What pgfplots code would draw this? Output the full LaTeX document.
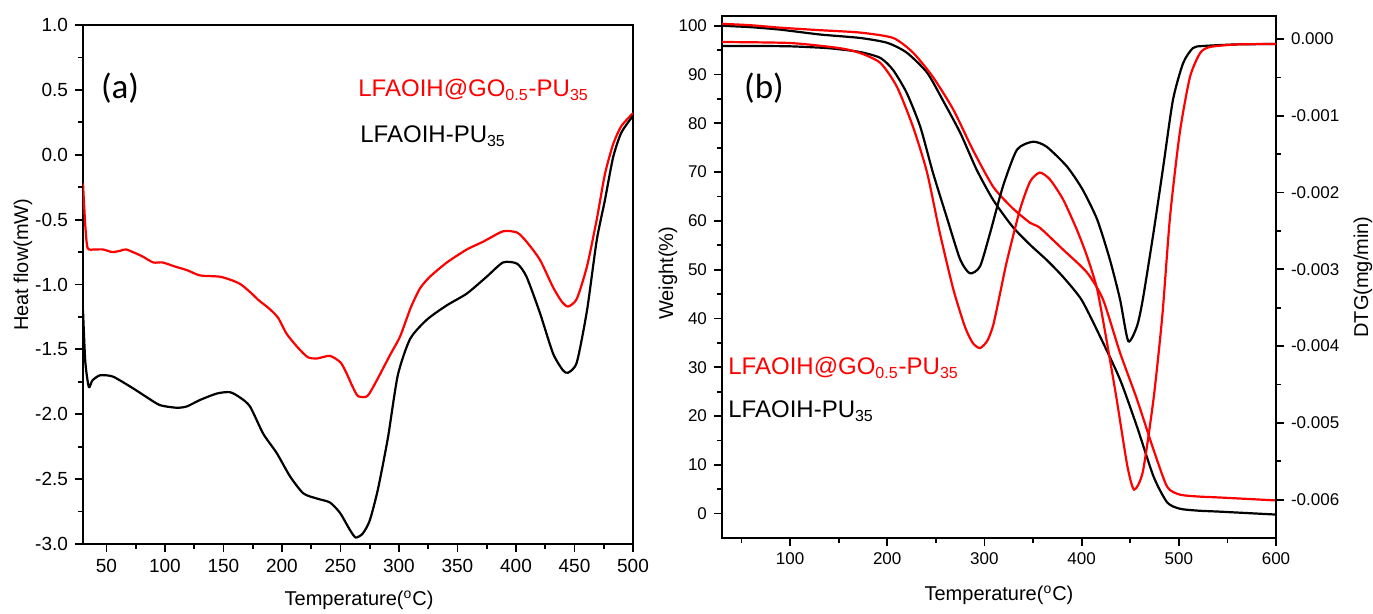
\documentclass[border=0pt]{standalone}
\usepackage{fontspec}
\setmainfont{Liberation Sans}
\newfontfamily\panelfont{Carlito}
\usepackage{pgfplots}
\pgfplotsset{compat=1.18}

\pgfplotsset{
  panel/.style={
    scale only axis,
    axis line style={line width=1pt},
    tick align=outside,
    major tick length=4pt,
    minor tick length=2.5pt,
    every tick/.style={black, line width=0.9pt},
    /pgf/number format/assume math mode=true,
    xlabel style={font=\fontsize{12}{14}\selectfont},
    ylabel style={font=\fontsize{13.5}{16}\selectfont},
    scaled y ticks=false,
  },
  curve/.style={line width=1.1pt, smooth, tension=0.4},
}

\begin{document}
\begin{tikzpicture}
\useasboundingbox (0,0) rectangle (686.5pt,307pt);

% ---------- (a) DSC ----------
\begin{axis}[
  panel,
  at={(41.5pt,35pt)}, anchor=south west,
  width=275pt, height=259.5pt,
  xmin=30, xmax=500, ymin=-3, ymax=1,
  xtick={50,100,...,500},
  minor xtick={75,125,...,475},
  ytick={-3,-2.5,...,1},
  minor ytick={-2.75,-2.25,...,0.75},
  xtick pos=bottom, ytick pos=left,
  tick label style={font=\fontsize{9.5}{11}\selectfont},
  yticklabel style={/pgf/number format/.cd, fixed, fixed zerofill, precision=1},
  xlabel={Temperature(\textsuperscript{o}C)},
  ylabel={Heat flow(mW)},
  every axis x label/.style={at={(axis description cs:0.502,-0.108)}, anchor=center},
  every axis y label/.style={at={(axis description cs:-0.109,0.538)}, rotate=90, anchor=center},
]
\addplot[curve, red] coordinates {
  (30,-0.22) (32,-0.55) (34,-0.72) (40,-0.73) (47,-0.73) (55,-0.75) (62,-0.74)
  (67,-0.73) (80,-0.78) (90,-0.83) (98,-0.83) (108,-0.86) (119,-0.89) (130,-0.93)
  (147,-0.94) (158,-0.97) (165,-1.0) (173,-1.06) (180,-1.12) (187,-1.17) (192,-1.21)
  (197,-1.26) (204,-1.38) (213,-1.48) (222,-1.56) (230,-1.57) (241,-1.55) (250,-1.60)
  (255,-1.68) (260,-1.78) (265,-1.86) (273,-1.86) (281,-1.74) (292,-1.55) (301,-1.40)
  (310,-1.18) (318,-1.03) (326.5,-0.94) (341,-0.83) (358,-0.73) (372,-0.67) (389,-0.59)
  (401,-0.60) (409,-0.67) (420.5,-0.81) (431.6,-1.02) (439,-1.13) (444.5,-1.17)
  (452,-1.11) (460.7,-0.86) (469,-0.50) (476,-0.15) (483,0.08) (490,0.22) (500,0.32)
};
\addplot[curve, black] coordinates {
  (30,-1.2) (32,-1.6) (35,-1.79) (38,-1.74) (44.5,-1.70) (55.6,-1.71) (72.7,-1.80)
  (84.7,-1.87) (95.8,-1.93) (110,-1.95) (118.7,-1.94) (130,-1.89) (144.5,-1.84)
  (155.6,-1.83) (164,-1.87) (172.7,-1.94) (184,-2.15) (195.6,-2.30) (207,-2.48)
  (218.3,-2.61) (230,-2.65) (241,-2.68) (249.6,-2.76) (258,-2.89) (263,-2.95)
  (269,-2.92) (275,-2.82) (282,-2.58) (290.6,-2.18) (299,-1.70) (309.5,-1.42)
  (324,-1.27) (341,-1.16) (358,-1.07) (375,-0.94) (389,-0.83) (401,-0.84) (409,-0.94)
  (420.5,-1.22) (431.6,-1.53) (440,-1.66) (444.5,-1.68) (452,-1.60) (460.7,-1.20)
  (469,-0.66) (476,-0.35) (483,-0.02) (490,0.17) (500,0.30)
};
\end{axis}

% ---------- (b) TG / DTG ----------
\begin{axis}[
  panel,
  at={(361pt,38pt)}, anchor=south west,
  width=277pt, height=261pt,
  xmin=30, xmax=600, ymin=-5, ymax=102,
  xtick={100,200,...,600},
  minor xtick={50,150,...,550},
  ytick={0,10,...,100},
  minor ytick={5,15,...,95},
  xtick pos=bottom, ytick pos=left,
  tick label style={font=\fontsize{8.5}{10}\selectfont},
  xlabel={Temperature(\textsuperscript{o}C)},
  ylabel={Weight(\%)},
  every axis x label/.style={at={(axis description cs:0.5,-0.11)}, anchor=center},
  every axis y label/.style={at={(axis description cs:-0.0975,0.507)}, rotate=90, anchor=center},
]
\addplot[curve, black] coordinates {
  (30,100.0) (60,99.7) (90,99.2) (131,98.2) (172,97.5) (200,96.5) (220,94.5)
  (241,90.4) (257,84.8) (275,78.1) (292,70.5) (309,64.3) (329,58.8) (347,55.1)
  (364,52.0) (381,48.5) (400,43.8) (419,36.3) (439.5,27.5) (457,17.8) (474,7.6)
  (488,2.3) (501,1.0) (520,0.6) (542,0.4) (600,-0.2)
};
\addplot[curve, red] coordinates {
  (30,100.4) (60,100.1) (90,99.6) (130,99.1) (172,98.6) (206,97.5) (226.5,94.5)
  (247,89.5) (268,82.8) (288,74.6) (309,67.0) (329,62.6) (347,59.6) (357,58.6)
  (381,54.1) (405.6,49.4) (422,43.9) (439.5,33.0) (457,23.4) (474,13.1) (488,5.5)
  (501,3.9) (520,3.5) (542,3.3) (600,2.7)
};
\end{axis}
\begin{axis}[
  panel,
  at={(361pt,38pt)}, anchor=south west,
  width=277pt, height=261pt,
  xmin=30, xmax=600, ymin=-0.0065, ymax=0.0003,
  axis x line=none, axis y line*=right,
  ytick={-0.006,-0.005,...,0},
  minor ytick={-0.0055,-0.0045,...,-0.0005},
  ytick pos=right,
  tick label style={font=\fontsize{8.5}{10}\selectfont},
  yticklabel style={/pgf/number format/.cd, fixed, fixed zerofill, precision=3},
  ylabel={DTG(mg/min)},
  every axis y label/.style={at={(axis description cs:1.157,0.5)}, rotate=90, anchor=center},
]
\addplot[curve, black] coordinates {
  (30,-0.000091) (60,-0.000091) (100,-0.000095) (140,-0.00012) (172,-0.000169)
  (193,-0.000247) (206,-0.000403) (220,-0.000701) (234,-0.001143) (247,-0.00174)
  (261,-0.002312) (275,-0.00287) (285,-0.003052) (295.5,-0.002961) (306,-0.002519)
  (319,-0.001922) (333.5,-0.001442) (350,-0.001338) (364,-0.001403) (385,-0.001662)
  (401,-0.001961) (416,-0.002351) (429,-0.00287) (439.5,-0.00339) (448,-0.003935)
  (457,-0.00374) (463,-0.00339) (474,-0.002519) (484,-0.001662) (494,-0.000792)
  (504.5,-0.000312) (514.6,-0.000117) (525,-0.000091) (560,-0.00007) (600,-0.000065)
};
\addplot[curve, red] coordinates {
  (30,-0.000039) (100,-0.000052) (150,-0.000117) (172,-0.000182) (193,-0.000312)
  (210,-0.000623) (226.5,-0.001143) (241,-0.00174) (254,-0.002519) (268,-0.00326)
  (280,-0.00375) (288,-0.00396) (295.5,-0.004026) (303,-0.00393) (309,-0.00373)
  (316,-0.00332) (323,-0.0029) (336.6,-0.002221) (347,-0.001857) (357,-0.00174)
  (367.5,-0.001831) (381,-0.002091) (395,-0.002481) (405.6,-0.002831) (416,-0.00326)
  (426,-0.003948) (436,-0.004688) (447,-0.005558) (454,-0.00587) (463,-0.005636)
  (474,-0.004688) (483,-0.00361) (491,-0.002312) (501,-0.001221) (511.5,-0.000494)
  (522,-0.000182) (532,-0.000104) (560,-0.00007) (600,-0.000065)
};
\end{axis}

% panel letters and sample names
\node[font=\panelfont\fontsize{17.5}{20}\selectfont] at (60pt,263pt) {(a)};
\node[font=\panelfont\fontsize{17.5}{20}\selectfont] at (382pt,263pt) {(b)};
\node[anchor=base west, red, font=\fontsize{12}{14}\selectfont, inner sep=0pt]
  at (179pt,258.5pt) {LFAOIH@GO\textsubscript{0.5}-PU\textsubscript{35}};
\node[anchor=base west, black, font=\fontsize{12}{14}\selectfont, inner sep=0pt]
  at (180pt,235.5pt) {LFAOIH-PU\textsubscript{35}};
\node[anchor=base west, red, font=\fontsize{12}{14}\selectfont, inner sep=0pt]
  at (364pt,119.5pt) {LFAOIH@GO\textsubscript{0.5}-PU\textsubscript{35}};
\node[anchor=base west, black, font=\fontsize{12}{14}\selectfont, inner sep=0pt]
  at (364pt,98pt) {LFAOIH-PU\textsubscript{35}};
\end{tikzpicture}
\end{document}
